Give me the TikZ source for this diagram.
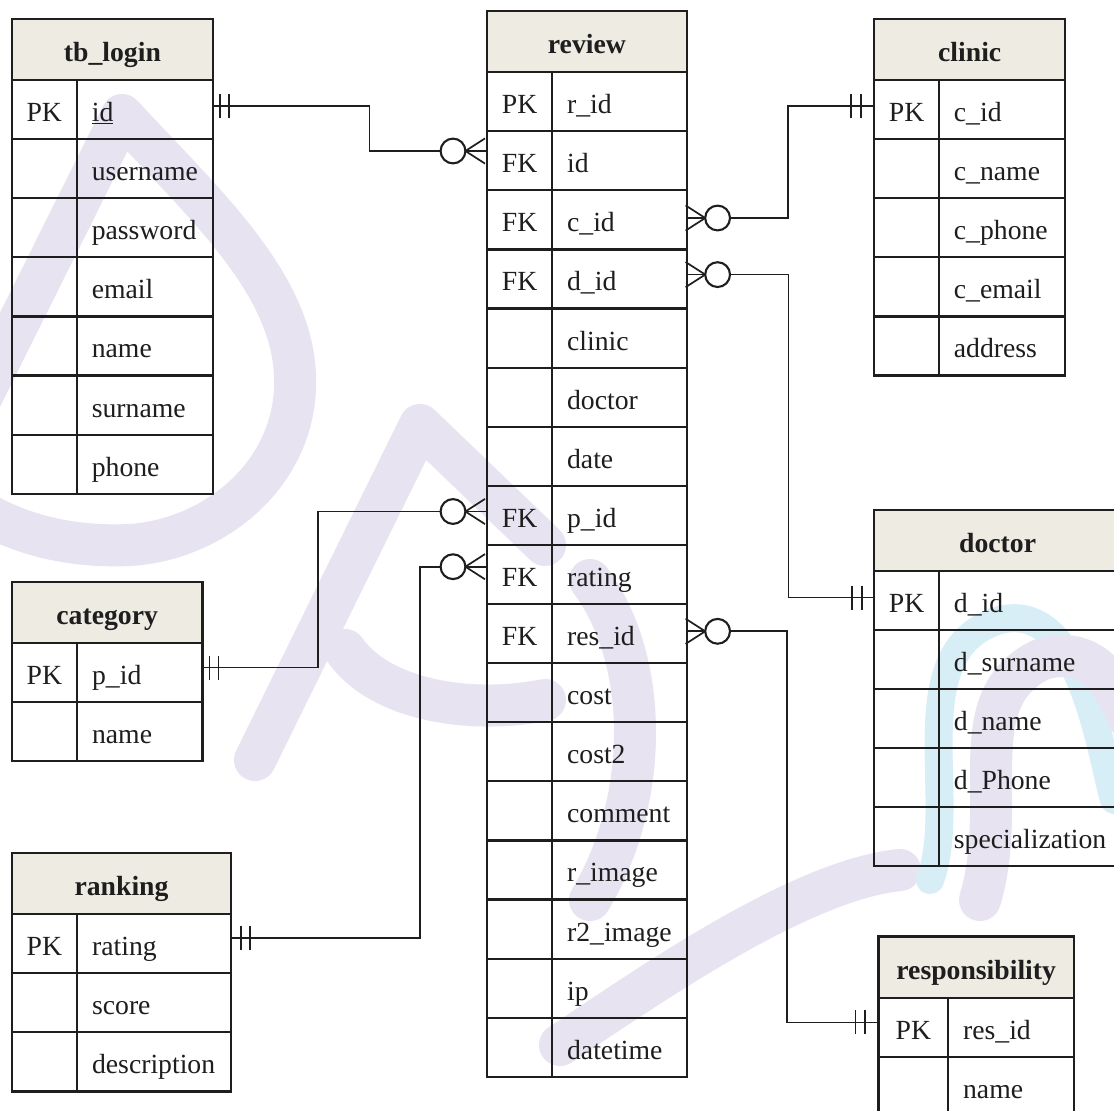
\documentclass[tikz,border=0pt]{standalone}
\usepackage{fontspec}
\setmainfont{Liberation Serif}
\usetikzlibrary{calc}
\definecolor{hdr}{RGB}{237,235,226}
\definecolor{ink}{RGB}{30,30,30}
\definecolor{wm}{RGB}{231,227,241}
\definecolor{wmc}{RGB}{216,238,247}
\newcommand{\rowh}{59.1}
\newcommand{\ertable}[8]{%
  \node[hdrcell, minimum width={#4+#5}, minimum height=#6, anchor=north west] (#1) at (#2,#3) {#7};
  \pgfmathsetmacro{\tw}{#5-30}
  \foreach [count=\i] \k/\v in {#8} {
    \node[keycell, minimum width=#4, minimum height=\rowh, anchor=north west] (#1-k\i) at (#2,{#3+#6+(\i-1)*\rowh}) {\k};
    \node[valcell, minimum width=#5, text width=\tw pt, minimum height=\rowh, anchor=north west] (#1-\i) at ({#2+#4},{#3+#6+(\i-1)*\rowh}) {\v};
  }
}
\newcommand{\manyleft}[1]{%
  \draw[circ] ($(#1)+(-33,0)$) circle (12.4);
  \draw[conn] ($(#1)+(-20.6,0)$) -- (#1);
  \draw[conn] ($(#1)+(-20.6,0)$) -- ($(#1)+(-1,-12.6)$);
  \draw[conn] ($(#1)+(-20.6,0)$) -- ($(#1)+(-1,12.6)$);
}
\newcommand{\manyright}[1]{%
  \draw[circ] ($(#1)+(32,0)$) circle (12.4);
  \draw[conn] ($(#1)+(19.6,0)$) -- (#1);
  \draw[conn] ($(#1)+(19.6,0)$) -- ($(#1)+(0,-12.6)$);
  \draw[conn] ($(#1)+(19.6,0)$) -- ($(#1)+(0,12.6)$);
}
\newcommand{\onebar}[2]{%
  \draw[conn] ($(#1)+(#2,-12)$) -- ($(#1)+(#2,12)$);
}
\begin{document}
\begin{tikzpicture}[x=1pt,y=-1pt,
  every node/.style={font=\fontsize{27.7}{30}\selectfont, text=ink},
  cell/.style={draw=ink, line width=2.2pt, rectangle, inner ysep=0pt, text height=25pt, text depth=1pt},
  hdrcell/.style={cell, fill=hdr, inner xsep=0pt, font=\fontsize{27.7}{30}\selectfont\bfseries},
  keycell/.style={cell, inner xsep=0pt},
  valcell/.style={cell, inner xsep=15pt, align=left},
  conn/.style={draw=ink, line width=1.7pt},
  circ/.style={draw=ink, line width=2.1pt},
  wmband/.style={draw=wm, line width=42pt, line cap=round, line join=round},
  wmcband/.style={draw=wmc, line width=28pt, line cap=round, line join=round}]
\useasboundingbox (0,0) rectangle (1114,1111);
\clip (0,0) rectangle (1114,1111);
\fill[white] (0,0) rectangle (1114,1111);
% ---------- watermark ----------
\draw[wmband] (-30,420) -- (122,115) .. controls (210,210) and (300,290) .. (295,390) .. controls (290,480) and (210,540) .. (130,545) .. controls (60,548) and (10,530) .. (-30,505);
\draw[wmband] (255,760) -- (420,425) -- (545,545);
\draw[wmband] (345,650) .. controls (380,700) and (470,715) .. (545,700);
\draw[wmband] (590,580) .. controls (650,660) and (650,800) .. (590,900);
\draw[wmband] (560,1045) .. controls (650,985) and (800,880) .. (900,870);
\draw[wmcband] (930,880) .. controls (960,800) and (900,650) .. (1000,620) .. controls (1080,600) and (1100,750) .. (1114,800);
\draw[wmband] (980,900) .. controls (1010,800) and (960,700) .. (1040,660) .. controls (1100,640) and (1120,700) .. (1130,720);
% ---------- tables ----------
\ertable{tblogin}{10.7}{17.8}{65}{136.3}{61.1}{tb\_login}{PK/\underline{id},/username,/password,/email,/name,/surname,/phone}
\ertable{review}{486}{10}{65}{134.6}{61}{review}{PK/r\_id,FK/id,FK/c\_id,FK/d\_id,/clinic,/doctor,/date,FK/p\_id,FK/rating,FK/res\_id,/cost,/cost2,/comment,/r\_image,/r2\_image,/ip,/datetime}
\ertable{clinic}{873.2}{17.8}{64.6}{126.2}{61.1}{clinic}{PK/c\_id,/c\_name,/c\_phone,/c\_email,/address}
\ertable{doctor}{873.2}{508.7}{64.6}{182}{60.8}{doctor}{PK/d\_id,/d\_surname,/d\_name,/d\_Phone,/specialization}
\ertable{category}{10.7}{580.9}{65.3}{125.4}{60.7}{category}{PK/p\_id,/name}
\ertable{ranking}{10.7}{851.9}{65.3}{154.2}{61.1}{ranking}{PK/rating,/score,/description}
\ertable{resp}{877.4}{935.4}{69.6}{125.8}{61.1}{responsibility}{PK/res\_id,/name}
% ---------- attachment points ----------
\coordinate (lgid) at (212,106);
\coordinate (rvid) at (486,151);
\coordinate (rvcid) at (685.6,218);
\coordinate (clid) at (873.2,106);
\coordinate (rvdid) at (685.6,274.6);
\coordinate (dcid) at (873.2,597.6);
\coordinate (ctid) at (201.4,667.5);
\coordinate (rvpid) at (486,511.5);
\coordinate (rkid) at (230.2,937.9);
\coordinate (rvrat) at (486,566.7);
\coordinate (rvres) at (685.6,631.3);
\coordinate (rsid) at (877.4,1022.4);
% ---------- relationships ----------
% tb_login -- review
\draw[conn] (lgid) -- (369.4,106) -- (369.4,151) -- ($(rvid)+(-45.4,0)$);
\onebar{lgid}{8}\onebar{lgid}{17}
\manyleft{rvid}
% review -- clinic
\draw[conn] ($(rvcid)+(44.4,0)$) -- (787.9,218) -- (787.9,106) -- (clid);
\onebar{clid}{-22}\onebar{clid}{-12.3}
\manyright{rvcid}
% review -- doctor
\draw[conn] ($(rvdid)+(44.4,0)$) -- (788.6,274.6) -- (788.6,597.6) -- (dcid);
\onebar{dcid}{-21.4}\onebar{dcid}{-11.4}
\manyright{rvdid}
% category -- review
\draw[conn] (ctid) -- (318,667.5) -- (318,511.5) -- ($(rvpid)+(-45.4,0)$);
\onebar{ctid}{8.2}\onebar{ctid}{17.1}
\manyleft{rvpid}
% ranking -- review
\draw[conn] (rkid) -- (420.2,937.9) -- (420.2,566.7) -- ($(rvrat)+(-45.4,0)$);
\onebar{rkid}{10.7}\onebar{rkid}{19.5}
\manyleft{rvrat}
% review -- responsibility
\draw[conn] ($(rvres)+(44.4,0)$) -- (787.2,631.3) -- (787.2,1022.4) -- (rsid);
\onebar{rsid}{-22}\onebar{rsid}{-12.1}
\manyright{rvres}
\end{tikzpicture}
\end{document}
